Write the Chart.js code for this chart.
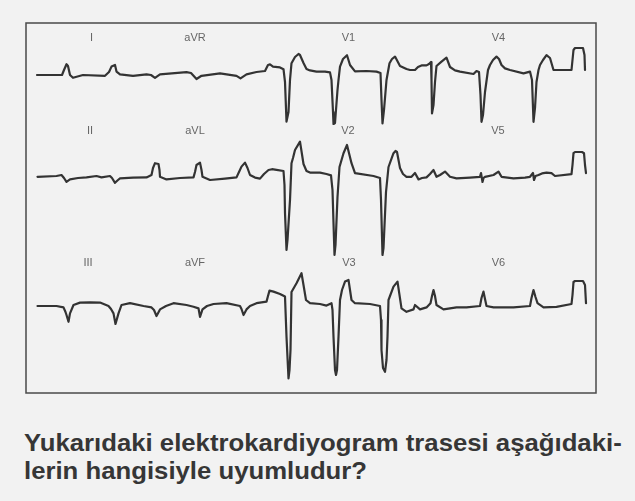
<!DOCTYPE html>
<html><head><meta charset="utf-8">
<script src="https://cdn.jsdelivr.net/npm/chart.js@4"></script>
<style>
html,body{margin:0;padding:0;background:#f2f2f2;}
#wrap{position:relative;width:635px;height:400px;}
#q{position:absolute;left:24px;top:429px;font:bold 24.5px "Liberation Sans",Arial,sans-serif;line-height:28px;color:#363636;white-space:nowrap;transform:scaleX(1.05);transform-origin:0 0;}
</style></head>
<body>
<div id="wrap"><canvas id="c"></canvas></div>
<div id="q">Yukarıdaki elektrokardiyogram trasesi aşağıdaki-<br>lerin hangisiyle uyumludur?</div>
<script>
// Lead names per row
const row1Leads = ['I', 'aVR', 'V1', 'V4'];
const row2Leads = ['II', 'aVL', 'V2', 'V5'];
const row3Leads = ['III', 'aVF', 'V3', 'V6'];

// Row 1 trace: time (ms) and amplitude (mV)
const row1Time = [220,720,760,810,840,880,940,1140,1580,1660,1710,1780,1810,1880,2140,2410,2500,2580,2680,3210,3300,3410,3510,3880,4210,4290,4410,4610,4780,4840,4880,4940,5080,5150,5180,5210,5250,5280,5310,5380,5450,5480,5550,5610,5680,5810,5980,6080,6110,6140,6150,6180,6230,6250,6280,6340,6420,6480,6580,6810,7010,7090,7110,7130,7160,7210,7270,7320,7380,7480,7610,7680,7780,7840,7910,8010,8060,8100,8110,8120,8150,8180,8210,8310,8410,8480,8580,8680,8950,9010,9060,9090,9110,9140,9180,9240,9280,9340,9410,9460,9510,9580,9680,9950,10080,10120,10150,10180,10210,10250,10280,10340,10410,10480,10550,10910,10930,10950,10980,11140,11170,11180];
const row1mV = [-0.10,-0.10,0.15,0.44,0.35,-0.10,-0.24,-0.10,-0.14,0.05,0.32,0.40,0.07,-0.07,-0.14,-0.07,-0.10,-0.24,-0.07,0.04,0,-0.30,-0.14,-0.02,-0.14,-0.27,-0.07,0.05,0.10,0.40,0.43,0.32,0.28,0.19,-0.45,-2.43,-1.95,-0.35,0.49,0.80,0.95,0.90,0.50,0.20,0.13,0.07,0.07,0.03,-0.35,-1.95,-2.55,-2.50,-0.85,-0.35,0.32,0.70,0.89,0.40,0.08,0.10,0.07,0,-1.35,-2.52,-1.85,-0.35,0.49,0.70,0.82,0.35,0.20,0.15,0.15,0.30,0.38,0.38,0.45,0.55,-0.35,-2.02,-1.60,-0.45,0.35,0.57,0.77,0.30,0.13,0.07,-0.05,0.10,0.05,-1.10,-2.44,-2.10,-0.95,0.15,0.40,0.65,0.82,0.70,0.40,0.23,0.15,-0.02,0.07,-0.35,-2.44,-1.75,-0.45,0.15,0.40,0.65,0.89,0.75,0.15,0.15,0.65,1.15,1.25,1.25,0.90,0.15];

// Row 2 trace
const row2Time = [230,610,710,760,810,880,1040,1210,1410,1510,1680,1720,1780,1840,1880,2140,2410,2510,2540,2580,2650,2670,2680,2810,3080,3350,3380,3410,3480,3510,3530,3680,3980,4210,4260,4310,4380,4430,4480,4580,4680,4760,4850,4920,5010,5150,5170,5180,5210,5230,5280,5310,5340,5380,5480,5550,5610,5680,5880,6010,6100,6130,6150,6170,6190,6230,6270,6350,6420,6510,6580,6950,7080,7100,7130,7150,7200,7250,7350,7390,7420,7480,7540,7610,7710,7780,7850,7920,8010,8080,8150,8210,8280,8380,8480,8610,8880,9080,9100,9130,9150,9180,9350,9450,9510,9750,9980,10080,10140,10160,10190,10250,10320,10410,10510,10580,10910,10930,10950,10980,11120,11160,11180,11200];
const row2mV = [-0.04,0,0.05,-0.10,-0.29,-0.17,-0.10,-0.07,0,-0.07,0,-0.10,-0.34,-0.20,-0.12,-0.08,-0.07,0.05,0.40,0.64,0.60,0.30,-0.04,-0.17,-0.10,-0.07,0.20,0.55,0.67,0.30,-0.04,-0.20,-0.13,-0.07,0.20,0.47,0.67,0.40,0.05,-0.08,-0.13,0.10,0.30,0.34,0.31,0.25,-0.45,-1.85,-3.70,-3.20,-1.20,0.64,0.90,1.30,1.72,0.60,0.25,0.17,0.17,0.10,0.03,-0.70,-2.35,-3.95,-3.45,-1.05,0.45,1.14,1.55,0.64,0.14,0,-0.10,-1.20,-3.95,-3.60,-0.80,0.45,1.14,1.25,1.20,0.40,0.10,-0.04,-0.04,0.15,-0.17,-0.10,-0.07,0.10,0.30,-0.04,0.05,0.22,-0.04,-0.12,-0.08,-0.04,0.15,-0.30,-0.10,-0.04,0.05,0.22,-0.04,-0.12,-0.08,-0.04,0.15,-0.20,0,0.05,0.13,0.17,0.14,0,0.09,0.55,1.14,1.20,1.20,1.14,0.55,0.14];

// Row 3 trace
const row3Time = [230,610,750,790,810,850,880,950,1080,1280,1480,1650,1700,1750,1790,1850,1910,2080,2350,2510,2560,2610,2680,2800,2950,3210,3350,3450,3480,3530,3620,3750,4010,4280,4310,4350,4410,4480,4610,4810,4840,4870,4950,5080,5180,5210,5250,5270,5290,5310,5410,5510,5550,5600,5680,5880,6010,6110,6130,6150,6180,6200,6220,6250,6280,6320,6380,6450,6510,6580,6880,7080,7100,7110,7140,7180,7210,7230,7250,7350,7430,7510,7610,7750,7780,7880,8010,8090,8120,8150,8180,8210,8350,8610,8810,9080,9110,9150,9180,9210,9350,9750,10080,10110,10150,10190,10230,10350,10610,10910,10930,10950,10980,11140,11180,11200];
const row3mV = [-0.05,-0.05,-0.12,-0.35,-0.50,-0.84,-0.42,0,0.12,0.13,0.12,-0.05,-0.20,-0.42,-0.95,-0.42,0,0.09,-0.05,-0.12,-0.25,-0.55,-0.22,-0.05,0.09,0,-0.09,-0.17,-0.59,-0.22,-0.05,0.05,0.09,-0.05,-0.20,-0.50,-0.22,-0.05,0.09,0.17,0.45,0.72,0.67,0.55,0.42,-1.59,-3.67,-3.25,-2.25,0.65,1.09,1.59,1.00,0.25,0.09,0.05,-0.03,0.09,-0.25,-1.59,-3.25,-3.50,-3.25,-1.59,0.25,0.75,1.17,1.25,0.25,0.09,0.05,-0.05,-0.75,-2.25,-3.15,-3.34,-2.75,-1.59,0.25,0.92,1.17,-0.17,-0.34,-0.22,0,-0.22,-0.12,0.09,0.45,0.75,0.45,0,-0.22,-0.12,-0.12,-0.05,0.35,0.67,0.30,-0.05,-0.12,-0.12,-0.05,0.35,0.75,0.40,0.09,-0.12,-0.09,0.05,0.50,1.15,1.20,1.20,1.00,0.09];

const rowTimes = [row1Time, row2Time, row3Time];
const rowValues = [row1mV, row2mV, row3mV];
const rowLeads = [row1Leads, row2Leads, row3Leads];

// layout constants (not data)
const labelTimes = [[1310,3380,6450,9450],[1280,3380,6440,9440],[1240,3380,6460,9450]];
const labelLevels = [1.74, 2.25, 2.12];

const datasets = rowTimes.map((times, r) => ({
  label: rowLeads[r].join(' '),
  data: times.map((t, i) => ({x: t, y: rowValues[r][i]})),
  xAxisID: 'x',
  yAxisID: 'y' + (r + 1),
  borderColor: '#333333',
  borderWidth: 2.2,
  borderJoinStyle: 'round',
  borderCapStyle: 'round',
  pointRadius: 0,
  fill: false,
  tension: 0
}));

const framePlugin = {
  id: 'frameAndLabels',
  afterDraw(chart) {
    const ctx = chart.ctx, a = chart.chartArea;
    ctx.save();
    ctx.strokeStyle = '#4a4a4a';
    ctx.lineWidth = 1.5;
    ctx.strokeRect(a.left, a.top, a.right - a.left, a.bottom - a.top);
    ctx.fillStyle = '#666666';
    ctx.font = '11px "Liberation Sans", Arial, sans-serif';
    ctx.textAlign = 'center';
    ctx.textBaseline = 'middle';
    rowLeads.forEach((leads, r) => {
      const ys = chart.scales['y' + (r + 1)];
      leads.forEach((name, i) => {
        ctx.fillText(name, chart.scales.x.getPixelForValue(labelTimes[r][i]), ys.getPixelForValue(labelLevels[r]));
      });
    });
    ctx.restore();
  }
};

new Chart(document.getElementById('c'), {
  type: 'line',
  data: {datasets},
  options: {
    responsive: true,
    maintainAspectRatio: false,
    animation: false,
    events: [],
    layout: {padding: {left: 26, top: 23, right: 39, bottom: 7}},
    plugins: {legend: {display: false}, tooltip: {enabled: false}},
    scales: {
      x: {type: 'linear', min: 0, max: 11400, display: false},
      y1: {type: 'linear', position: 'right', stack: 'ecg', stackWeight: 5.1, min: -2.6, max: 2.5, display: false},
      y2: {type: 'linear', position: 'right', stack: 'ecg', stackWeight: 6.65, min: -4.1, max: 2.55, display: false},
      y3: {type: 'linear', position: 'right', stack: 'ecg', stackWeight: 6.75, min: -4.4, max: 2.35, display: false}
    }
  },
  plugins: [framePlugin]
});
</script>
</body></html>
